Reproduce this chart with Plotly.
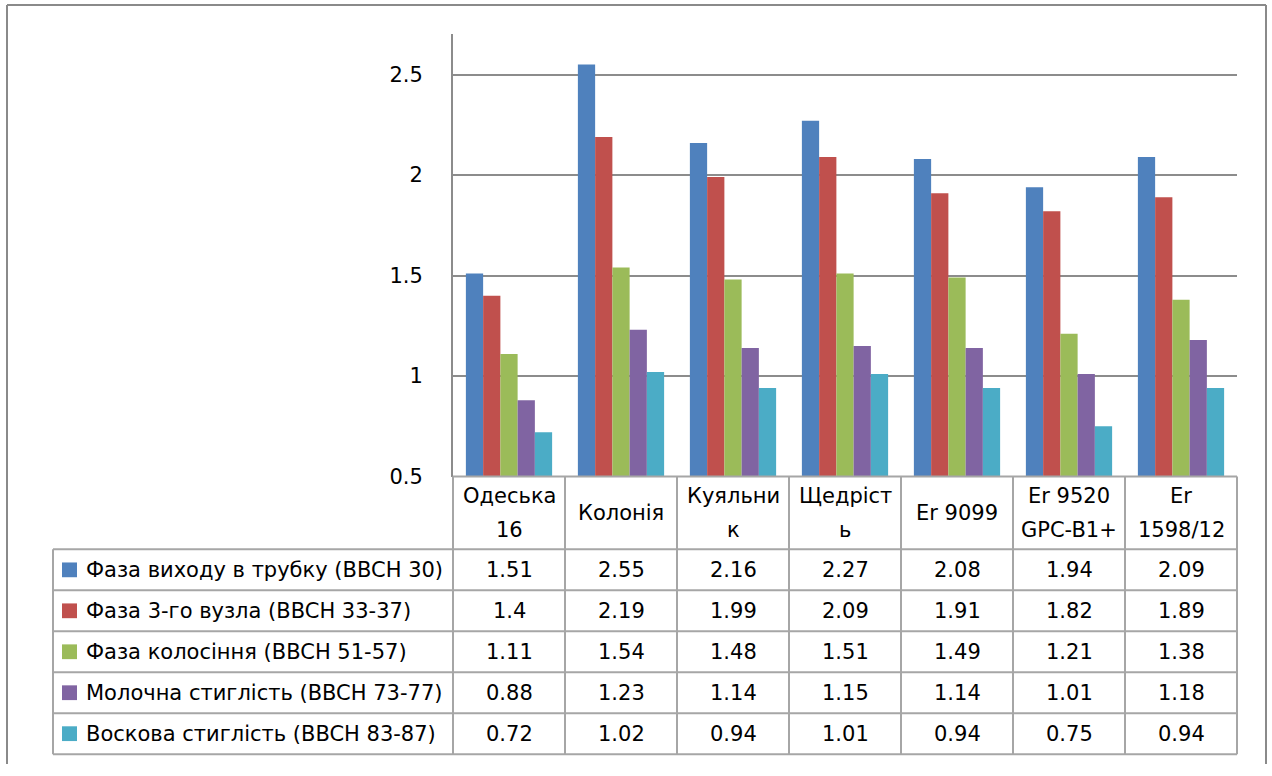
import plotly.graph_objects as go

# ---- data -------------------------------------------------------------
categories = ["Одеська\n16", "Колонія", "Куяльни\nк", "Щедріст\nь",
              "Er 9099", "Er 9520\nGPC-B1+", "Er\n1598/12"]

series_names = [
    "Фаза виходу в трубку (BBCH 30)",
    "Фаза 3-го вузла (BBCH 33-37)",
    "Фаза колосіння (BBCH 51-57)",
    "Молочна стиглість (BBCH 73-77)",
    "Воскова стиглість (BBCH 83-87)",
]

phase_tube = [1.51, 2.55, 2.16, 2.27, 2.08, 1.94, 2.09]
phase_node3 = [1.4, 2.19, 1.99, 2.09, 1.91, 1.82, 1.89]
phase_heading = [1.11, 1.54, 1.48, 1.51, 1.49, 1.21, 1.38]
milk_ripeness = [0.88, 1.23, 1.14, 1.15, 1.14, 1.01, 1.18]
wax_ripeness = [0.72, 1.02, 0.94, 1.01, 0.94, 0.75, 0.94]

series_values = [phase_tube, phase_node3, phase_heading, milk_ripeness, wax_ripeness]
value_labels = [
    ["1.51", "2.55", "2.16", "2.27", "2.08", "1.94", "2.09"],
    ["1.4", "2.19", "1.99", "2.09", "1.91", "1.82", "1.89"],
    ["1.11", "1.54", "1.48", "1.51", "1.49", "1.21", "1.38"],
    ["0.88", "1.23", "1.14", "1.15", "1.14", "1.01", "1.18"],
    ["0.72", "1.02", "0.94", "1.01", "0.94", "0.75", "0.94"],
]

tick_vals = [0.5, 1, 1.5, 2, 2.5]
tick_text = ["0.5", "1", "1.5", "2", "2.5"]

# ---- styling ----------------------------------------------------------
colors = ["#4F81BD", "#C0504D", "#9BBB59", "#8064A2", "#4BACC6"]
FONT = "DejaVu Sans"
FSIZE = 21
GRID = "#8C8C8C"
TABLE_LINE = "#A6A6A6"

W, H = 1272, 776
PLOT_L, PLOT_R = 453, 1237
PLOT_T, PLOT_B = 35, 484
TABLE_L = 53
HEADER_B = 558
ROW_H = 41.6


def fx(x):
    return x / W


def fy(y):
    return 1 - y / H


x_keys = [c.replace("\n", " ") for c in categories]

fig = go.Figure()
for name, vals, col in zip(series_names, series_values, colors):
    fig.add_trace(go.Bar(
        x=x_keys, y=vals, name=name, marker=dict(color=col, line=dict(width=0)),
        showlegend=False,
    ))

shapes = []
annotations = []


def hline(x0, x1, y, color=TABLE_LINE, width=2):
    shapes.append(dict(type="line", xref="paper", yref="paper",
                       x0=fx(x0), x1=fx(x1), y0=fy(y), y1=fy(y),
                       line=dict(color=color, width=width)))


def vline(x, y0, y1, color=TABLE_LINE, width=2):
    shapes.append(dict(type="line", xref="paper", yref="paper",
                       x0=fx(x), x1=fx(x), y0=fy(y0), y1=fy(y1),
                       line=dict(color=color, width=width)))


n_cat = len(categories)
col_w = (PLOT_R - PLOT_L) / n_cat
rows_bottom = HEADER_B + ROW_H * len(series_names)

# table grid
hline(PLOT_L, PLOT_R, PLOT_B)
hline(TABLE_L, PLOT_R, HEADER_B)
for r in range(1, len(series_names) + 1):
    hline(TABLE_L, PLOT_R, HEADER_B + ROW_H * r)
vline(TABLE_L, HEADER_B, rows_bottom)
for c in range(n_cat + 1):
    vline(PLOT_L + col_w * c, PLOT_B, rows_bottom)

# outer chart frame
frame = "#8A8A8A"
hline(7, 1266, 5, color=frame, width=2)
vline(7, 5, H, color=frame, width=2)
vline(1266, 5, H, color=frame, width=2)

# header: category names
LINE_GAP = 34
for i, cat in enumerate(categories):
    cx = PLOT_L + col_w * (i + 0.5)
    lines = cat.split("\n")
    cy0 = (PLOT_B + HEADER_B) / 2 - LINE_GAP * (len(lines) - 1) / 2
    for j, ln in enumerate(lines):
        annotations.append(dict(x=fx(cx), y=fy(cy0 + LINE_GAP * j), xref="paper", yref="paper",
                                text=ln, showarrow=False, xanchor="center", yanchor="middle",
                                font=dict(family=FONT, size=FSIZE, color="black")))

# legend keys, series names and values
for r, (name, col) in enumerate(zip(series_names, colors)):
    cy = HEADER_B + ROW_H * (r + 0.5)
    shapes.append(dict(type="rect", xref="paper", yref="paper",
                       x0=fx(62), x1=fx(77), y0=fy(cy - 7.5), y1=fy(cy + 7.5),
                       fillcolor=col, line=dict(width=0)))
    annotations.append(dict(x=fx(84), y=fy(cy), xref="paper", yref="paper",
                            text=name, showarrow=False, xanchor="left", yanchor="middle",
                            font=dict(family=FONT, size=FSIZE, color="black")))
    for i, lbl in enumerate(value_labels[r]):
        cx = PLOT_L + col_w * (i + 0.5)
        annotations.append(dict(x=fx(cx), y=fy(cy), xref="paper", yref="paper",
                                text=lbl, showarrow=False, xanchor="center", yanchor="middle",
                                font=dict(family=FONT, size=FSIZE, color="black")))

fig.update_layout(
    width=W, height=H,
    margin=dict(l=0, r=0, t=0, b=0),
    paper_bgcolor="white", plot_bgcolor="white",
    barmode="group", bargap=0.23, bargroupgap=0,
    xaxis=dict(domain=[fx(PLOT_L), fx(PLOT_R)], showticklabels=False, showgrid=False,
               zeroline=False, showline=False, ticks=""),
    yaxis=dict(domain=[fy(PLOT_B), fy(PLOT_T)], range=[0.5, 2.7],
               tickvals=tick_vals, ticktext=tick_text, showgrid=True,
               gridcolor=GRID, gridwidth=1.5, zeroline=False,
               showline=True, linecolor=GRID, linewidth=2, ticks="",
               ticklabelstandoff=24,
               tickfont=dict(family=FONT, size=FSIZE, color="black")),
    shapes=shapes,
    annotations=annotations,
    font=dict(family=FONT, size=FSIZE, color="black"),
)

fig.write_html("out.html")
